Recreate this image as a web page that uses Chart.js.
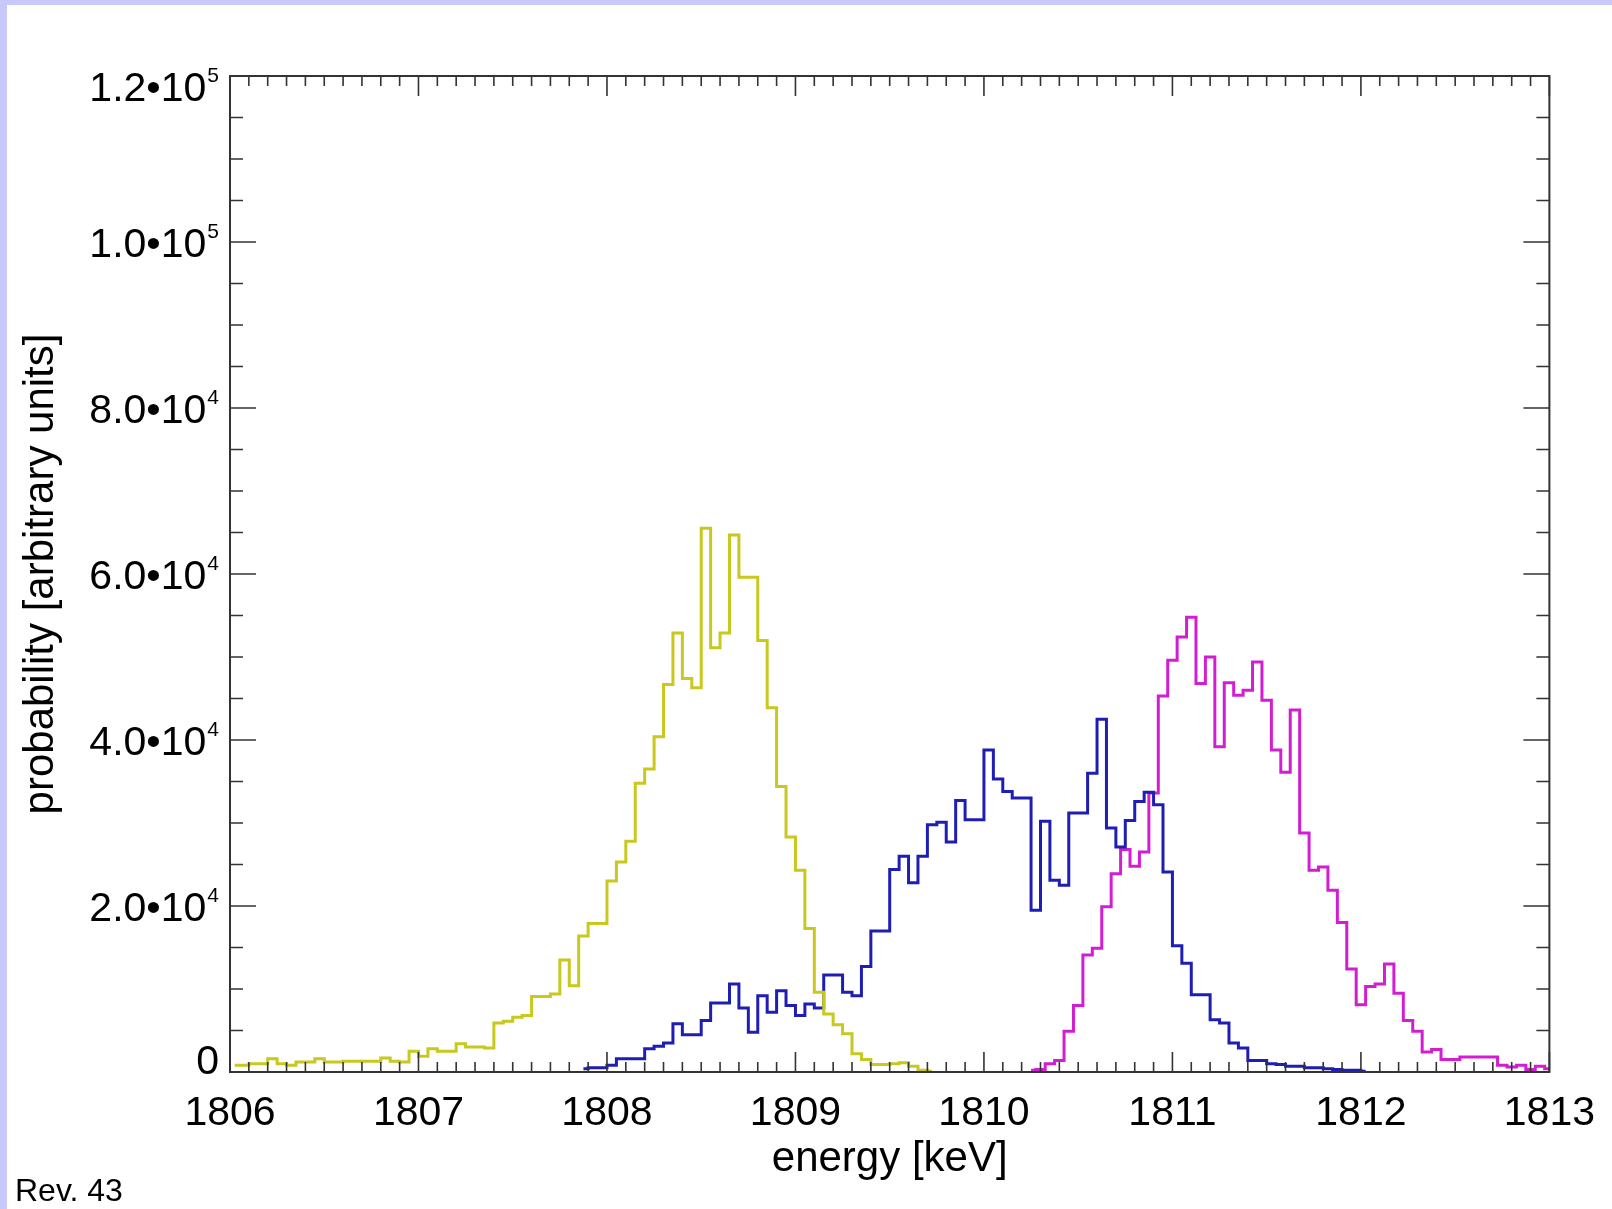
<!DOCTYPE html>
<html>
<head>
<meta charset="utf-8">
<title>energy spectrum</title>
<script src="https://cdn.jsdelivr.net/npm/chart.js@4.4.1/dist/chart.umd.min.js"></script>
<style>
  html, body { margin: 0; padding: 0; }
  body { width: 1612px; height: 1209px; background: #c8c8fa; position: relative; overflow: hidden; }
  #sheet { position: absolute; left: 7px; top: 5px; right: 0; bottom: 0; background: #fff; }
  #plot { position: absolute; left: 0; top: 0; }
  #rev { position: absolute; left: 15px; top: 1174px; font-family: "Liberation Sans", Arial, sans-serif; font-size: 32px; line-height: 1; color: #000; }
</style>
</head>
<body>
<div id="sheet"></div>
<canvas id="plot" width="1612" height="1209"></canvas>
<div id="rev">Rev. 43</div>
<script>
// histogram bins are 0.05 keV wide, x values are the bin centres
const binWidth = 0.05;

const yellowStart = 1806.025;
const yellowCounts = [
  800, 800, 1000, 1000, 1600, 1000, 800, 1200, 1200, 1600,
  1200, 1200, 1300, 1300, 1300, 1300, 1700, 1300, 1200, 2500,
  1900, 2800, 2500, 2500, 3400, 3000, 3000, 2900, 5900, 6100,
  6600, 6800, 9100, 9100, 9400, 13500, 10400, 16400, 17900, 17900,
  23000, 25300, 27800, 34800, 36500, 40400, 46700, 52900, 47400, 46300,
  65500, 51100, 52900, 64700, 59600, 59600, 52000, 43900, 34400, 28300,
  24300, 17300, 9600, 7000, 5700, 4600, 2200, 1500, 900, 900,
  1000, 1100, 700, 200, 100
];

const blueStart = 1807.875;
const blueCounts = [
  400, 500, 500, 800, 1600, 1600, 1600, 2800, 3100, 3500,
  5800, 4500, 4500, 6200, 8300, 8300, 10600, 7700, 4800, 9200,
  7200, 9800, 8000, 6800, 8200, 7700, 11700, 11700, 9600, 9200,
  12700, 17000, 17000, 24400, 26000, 22800, 26000, 29800, 30100, 27700,
  32700, 30400, 30400, 38800, 35300, 33800, 33000, 33000, 19500, 30200,
  23100, 22500, 31200, 31200, 36000, 42500, 29400, 27100, 30300, 32600,
  33700, 32200, 24100, 15200, 13100, 9300, 9300, 6300, 5900, 3500,
  2900, 1400, 1400, 1000, 900, 700, 700, 500, 500, 400,
  300, 200, 200, 100
];

const magentaStart = 1810.25;
const magentaCounts = [
  200, 300, 1000, 1400, 4900, 8000, 14100, 14900, 19900, 23900,
  26800, 24800, 26500, 33600, 45300, 49600, 52400, 54800, 46800, 50000,
  39200, 46900, 45400, 46000, 49400, 44800, 38800, 36100, 43600, 28800,
  24300, 24700, 21900, 18000, 12400, 8100, 10300, 10600, 13000, 9500,
  6200, 4900, 2400, 2700, 1500, 1500, 1800, 1800, 1800, 1800,
  800, 600, 800, 300, 700, 400
];

const xTicks = [1806, 1807, 1808, 1809, 1810, 1811, 1812, 1813];
const yTicks = [0, 20000, 40000, 60000, 80000, 100000, 120000];
const yTickLabels = ['0', '2.0•10^4', '4.0•10^4', '6.0•10^4', '8.0•10^4', '1.0•10^5', '1.2•10^5'];

const FONT = '"Liberation Sans", Arial, sans-serif';

function toPoints(start, counts) {
  return counts.map((c, i) => ({ x: +(start + i * binWidth).toFixed(3), y: c }));
}

// inward tick marks on all four sides plus the box, IDL style
const frameTicks = {
  id: 'frameTicks',
  afterDatasetsDraw(chart) {
    const { ctx, chartArea: a, scales: { x, y } } = chart;
    ctx.save();
    ctx.strokeStyle = '#333';
    ctx.lineWidth = 1.6;
    ctx.beginPath();
    for (let i = 0; i <= 70; i++) {
      const px = x.getPixelForValue(1806 + i / 10);
      const len = i % 10 === 0 ? 20 : 10;
      ctx.moveTo(px, a.bottom); ctx.lineTo(px, a.bottom - len);
      ctx.moveTo(px, a.top); ctx.lineTo(px, a.top + len);
    }
    for (let v = 0; v <= 120000; v += 5000) {
      const py = y.getPixelForValue(v);
      const len = v % 20000 === 0 ? 26 : 13;
      ctx.moveTo(a.left, py); ctx.lineTo(a.left + len, py);
      ctx.moveTo(a.right, py); ctx.lineTo(a.right - len, py);
    }
    ctx.stroke();
    ctx.lineWidth = 2;
    ctx.strokeRect(a.left, a.top, a.right - a.left, a.bottom - a.top);
    ctx.restore();
  }
};

// y labels with a raised exponent ("2.0•10^4" -> 2.0•10 + small 4)
const yLabels = {
  id: 'yLabels',
  afterDraw(chart) {
    const { ctx, scales: { y } } = chart;
    const right = 219;
    ctx.save();
    ctx.fillStyle = '#000';
    ctx.textAlign = 'right';
    ctx.textBaseline = 'alphabetic';
    yTicks.forEach((v, i) => {
      let base = y.getPixelForValue(v) + 14.5;
      if (i === 0) base -= 13;                  // zero sits a little above the axis
      if (i === yTicks.length - 1) base += 10;  // top label pushed below the frame
      const [mant, exp] = yTickLabels[i].split('^');
      let x = right;
      if (exp) {
        ctx.font = '21px ' + FONT;
        ctx.fillText(exp, x, base - 19);
        x -= ctx.measureText(exp).width + 1;
      }
      ctx.font = '41px ' + FONT;
      ctx.fillText(mant, x, base);
    });
    ctx.restore();
  }
};

const lineStyle = { stepped: 'middle', borderWidth: 3, pointRadius: 0, fill: false };

new Chart(document.getElementById('plot'), {
  type: 'line',
  data: {
    datasets: [
      { label: 'yellow', data: toPoints(yellowStart, yellowCounts), borderColor: '#c8c81e', ...lineStyle },
      { label: 'blue', data: toPoints(blueStart, blueCounts), borderColor: '#1e1eb4', ...lineStyle },
      { label: 'magenta', data: toPoints(magentaStart, magentaCounts), borderColor: '#d21ed2', ...lineStyle }
    ]
  },
  options: {
    responsive: false,
    animation: false,
    devicePixelRatio: 1,
    layout: { padding: { top: 76, right: 59, left: 0, bottom: 0 } },
    plugins: { legend: { display: false }, tooltip: { enabled: false } },
    scales: {
      x: {
        type: 'linear',
        min: 1806,
        max: 1813,
        afterFit: s => { s.height = 137; },
        afterBuildTicks: s => { s.ticks = xTicks.map(v => ({ value: v })); },
        ticks: {
          color: '#000',
          font: { family: FONT, size: 41 },
          padding: 17,
          maxRotation: 0,
          callback: v => String(v)
        },
        grid: { drawOnChartArea: false, drawTicks: false },
        border: { display: false },
        title: {
          display: true,
          text: 'energy [keV]',
          color: '#000',
          font: { family: FONT, size: 42 },
          padding: { top: 0, bottom: 24 }
        }
      },
      y: {
        type: 'linear',
        min: 0,
        max: 120000,
        afterFit: s => { s.width = 230; },
        afterBuildTicks: s => { s.ticks = yTicks.map(v => ({ value: v })); },
        ticks: { display: false },
        grid: { drawOnChartArea: false, drawTicks: false },
        border: { display: false },
        title: {
          display: true,
          text: 'probability [arbitrary units]',
          color: '#000',
          font: { family: FONT, size: 42 },
          padding: { top: 16, bottom: 0 }
        }
      }
    }
  },
  plugins: [frameTicks, yLabels]
});
</script>
</body>
</html>
